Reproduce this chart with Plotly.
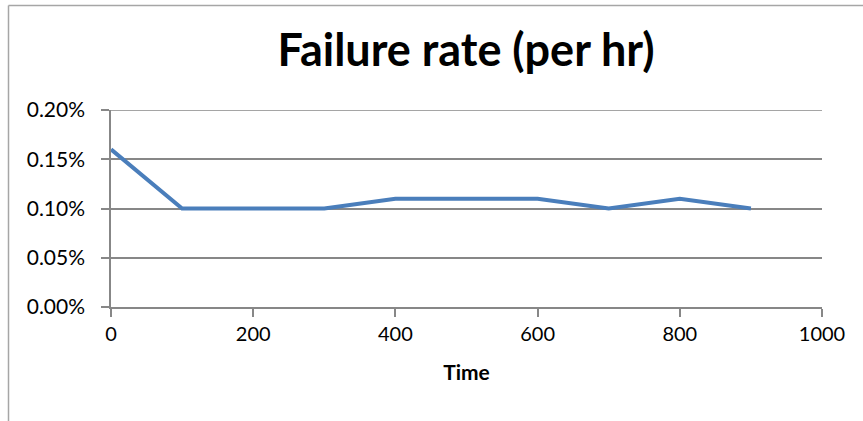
import plotly.graph_objects as go

time = [0, 100, 200, 300, 400, 500, 600, 700, 800, 900]
failure_rate = [0.0016, 0.0010, 0.0010, 0.0010, 0.0011, 0.0011, 0.0011, 0.0010, 0.0011, 0.0010]
x_ticks = [0, 200, 400, 600, 800, 1000]
y_ticks = [0, 0.0005, 0.0010, 0.0015, 0.0020]
y_tick_labels = ["0.00%", "0.05%", "0.10%", "0.15%", "0.20%"]

W, H = 863, 421
L, R, T, B = 111, 41, 110, 114
pw, ph = W - L - R, H - T - B

def px_x(p):
    return (p - L) / pw

def px_y(p):
    return (H - B - p) / ph

font = "Lato, Carlito, Calibri, sans-serif"
grid = "#878787"

fig = go.Figure()
fig.add_trace(go.Scatter(x=time, y=failure_rate, mode="lines",
                         line=dict(color="#4A7EBB", width=4), showlegend=False,
                         cliponaxis=False))

fig.update_layout(
    width=W, height=H,
    margin=dict(l=L, r=R, t=T, b=B),
    paper_bgcolor="white", plot_bgcolor="white",
    font=dict(family=font, size=20, color="black"),
    title=dict(text="<b>Failure rate (per hr)</b>", x=466 / W, xanchor="center",
               y=1 - 50 / H, yanchor="middle", font=dict(size=45, family=font)),
    xaxis=dict(range=[0, 1000], tickvals=x_ticks, ticks="outside", ticklen=8,
               tickcolor=grid, tickwidth=1.5, showline=True, linecolor=grid, linewidth=1.5,
               showgrid=False, zeroline=False, fixedrange=True,
               title=dict(text="<b>Time</b>", font=dict(size=21), standoff=22)),
    yaxis=dict(range=[0, 0.0020001], tickvals=y_ticks, ticktext=y_tick_labels,
               ticks="outside", ticklen=8, tickcolor=grid, tickwidth=1.5,
               showline=True, linecolor=grid, linewidth=1.5,
               showgrid=True, gridcolor=grid, gridwidth=1.5, zeroline=False,
               ticklabelstandoff=12, tickfont=dict(size=21), fixedrange=True),
    shapes=[
        dict(type="line", xref="paper", yref="y", x0=0, x1=1,
             y0=y_ticks[-1], y1=y_ticks[-1], line=dict(color=grid, width=1.5)),
        dict(type="line", xref="paper", yref="paper", x0=px_x(8.5), x1=px_x(8.5),
             y0=px_y(5.5), y1=px_y(H + 5), line=dict(color="#A6A6A6", width=1.5)),
        dict(type="line", xref="paper", yref="paper", x0=px_x(8.5), x1=px_x(W + 5),
             y0=px_y(5.5), y1=px_y(5.5), line=dict(color="#A6A6A6", width=1.5)),
    ],
)

fig.write_html("out.html", config=dict(displayModeBar=False))
